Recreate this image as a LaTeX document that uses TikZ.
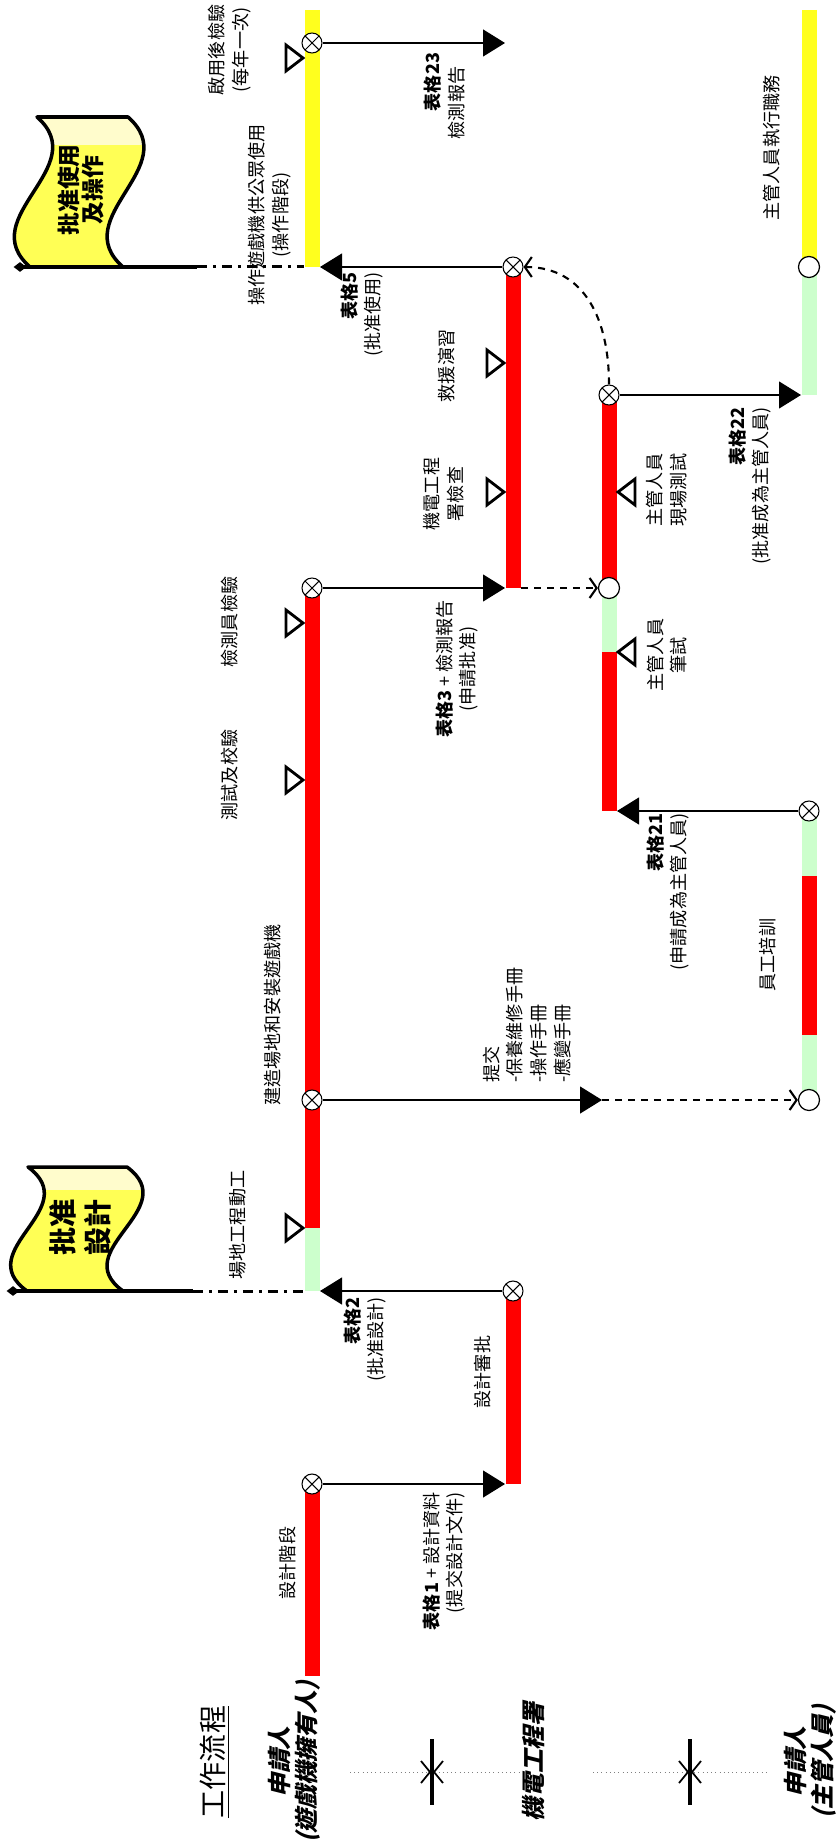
\documentclass[tikz,border=0pt]{standalone}
\usepackage{fontspec}
\setmainfont{Noto Sans CJK TC}
\newfontfamily\lanefont{Noto Sans CJK TC}[FakeSlant=0.25]
\usepackage{tikz}
\usetikzlibrary{arrows.meta}
\usetikzlibrary{shapes.geometric}

\definecolor{okgreen}{RGB}{204,255,204}
\definecolor{baryellow}{RGB}{255,255,30}
\definecolor{flagyellow}{RGB}{255,255,85}

\tikzset{
	bar/.style={line width=0.3cm, draw=#1},
	xcirc/.style={circle, draw, fill=white, minimum size=0.4cm, inner sep=0pt, line width=0.6pt,
		path picture={\draw[line width=0.6pt] (path picture bounding box.north west) -- (path picture bounding box.south east)
			(path picture bounding box.south west) -- (path picture bounding box.north east);}},
	ocirc/.style={circle, draw, fill=white, minimum size=0.42cm, inner sep=0pt, line width=0.7pt},
	msg/.style={line width=0.7pt, -{Triangle[length=0.44cm,width=0.54cm]}},
	follow/.style={line width=1.2pt, dash pattern=on 0.14cm off 0.12cm, -{Straight Barb[length=0.14cm,width=0.4cm]}},
	lbl/.style={rotate=90, inner sep=0pt, font=\fontsize{10.3}{13.6}\selectfont, align=center},
	lane/.style={rotate=90, inner sep=0pt, font=\lanefont\bfseries\fontsize{13.5}{15.4}\selectfont, align=center},
	flagedge/.style={line width=2pt, line join=round},
	poleline/.style={line width=0.08cm},
	dashdot/.style={line width=0.06cm, dash pattern=on 0.2cm off 0.12cm on 0.06cm off 0.12cm},
	pole/.style={diamond, fill=black, inner sep=0pt, minimum width=0.26cm, minimum height=0.2cm},
	milestone/.pic={\draw[line width=1.6pt, line join=miter, fill=white] (0,0) -- (-17,-13) -- (-17,13) -- cycle;},
}

\begin{document}
\begin{tikzpicture}[x=0.02cm, y=-0.02cm]
	\useasboundingbox (0,0) rectangle (836,1841);
%	header row
	\node[rotate=90, inner sep=0pt, font=\fontsize{16}{19}\selectfont] (title) at (215,1762) {\underline{工作流程}};
	\node[lane] (owner) at (294,1762) {申請人\\(遊戲機擁有人)};
	\node[lane] (emsd) at (534,1762) {機電工程署};
	\node[lane] (manager) at (810,1762) {申請人\\(主管人員)};
	\coordinate (h0) at (350,1772);
	\coordinate (h1) at (520,1772);
	\coordinate (h2) at (593,1772);
	\coordinate (h3) at (767,1772);
	\coordinate (sep1) at (432,1772);
	\coordinate (sep2) at (690,1772);
	\draw[dotted, gray] (h0) -- (h1);
	\draw[dotted, gray] (h2) -- (h3);
	\foreach \s in {sep1,sep2}{
		\draw[line width=1.9pt] ([shift={(0,-33)}]\s) -- ([shift={(0,33)}]\s);
		\draw[line width=1pt] ([shift={(-11,-11)}]\s) -- ([shift={(-2,0)}]\s) -- ([shift={(-11,11)}]\s);
		\draw[line width=1pt] ([shift={(11,-11)}]\s) -- ([shift={(2,0)}]\s) -- ([shift={(11,11)}]\s);
	}

%	activity bars
	\draw[bar=red] (312,1484) -- (312,1676);
	\draw[bar=okgreen] (312,1228) -- (312,1291);
	\draw[bar=red] (312,588) -- (312,1228);
	\draw[bar=baryellow] (312,10) -- (312,267);
	\draw[bar=red] (513,1291) -- (513,1484);
	\draw[bar=red] (513,267) -- (513,588);
	\draw[bar=red] (609,395) -- (609,588);
	\draw[bar=okgreen] (609,588) -- (609,652);
	\draw[bar=red] (609,652) -- (609,811);
	\draw[bar=okgreen] (809,811) -- (809,876);
	\draw[bar=red] (809,876) -- (809,1035);
	\draw[bar=okgreen] (809,1035) -- (809,1100);
	\draw[bar=baryellow] (809,10) -- (809,267);
	\draw[bar=okgreen] (809,267) -- (809,395);

%	flags
	\begin{scope}
		\clip (27,1291) -- (123,1291) .. controls (66,1250) and (184,1209) .. (127,1167) -- (28,1167) .. controls (85,1209) and (-30,1250) .. (27,1291) -- cycle;
		\fill[flagyellow] (0,1160) rectangle (160,1300);
		\fill[yellow!20] (0,1160) rectangle (160,1190);
	\end{scope}
	\draw[flagedge] (27,1291) -- (123,1291) .. controls (66,1250) and (184,1209) .. (127,1167) -- (28,1167) .. controls (85,1209) and (-30,1250) .. (27,1291) -- cycle;
	\node[rotate=90, align=center, inner sep=0pt, font=\bfseries\fontsize{16}{19.9}\selectfont] (design) at (80,1227) {批准\\設計};
	\begin{scope}
		\clip (30,267) -- (123,267) .. controls (66,217) and (185,167) .. (128,117) -- (37,117) .. controls (94,167) and (-27,217) .. (30,267) -- cycle;
		\fill[flagyellow] (0,110) rectangle (160,275);
		\fill[yellow!20] (0,110) rectangle (160,145);
	\end{scope}
	\draw[flagedge] (30,267) -- (123,267) .. controls (66,217) and (185,167) .. (128,117) -- (37,117) .. controls (94,167) and (-27,217) .. (30,267) -- cycle;
	\node[rotate=90, align=center, inner sep=0pt, font=\bfseries\fontsize{13}{14.2}\selectfont] (use) at (81,190) {批准使用\\及操作};
	\node[pole] (p1) at (13,1291) {};
	\node[pole] (p2) at (20,267) {};
	\coordinate (f1) at (193,1291);
	\coordinate (f2) at (197,267);
	\coordinate (g1) at (304,1291);
	\coordinate (g2) at (304,267);
	\draw[poleline] (p1.center) -- (f1);
	\draw[dashdot] (f1) -- (g1);
	\draw[poleline] (p2.center) -- (f2);
	\draw[dashdot] (f2) -- (g2);

%	events
	\node[xcirc] (a1) at (312,1484) {};
	\node[xcirc] (e1) at (513,1291) {};
	\node[xcirc] (a2) at (312,1100) {};
	\node[xcirc] (a3) at (312,588) {};
	\node[xcirc] (a4) at (312,43) {};
	\node[xcirc] (e2) at (513,267) {};
	\node[xcirc] (t2) at (609,395) {};
	\node[ocirc] (t1) at (609,588) {};
	\node[xcirc] (s1) at (809,811) {};
	\node[ocirc] (s2) at (809,1100) {};
	\node[ocirc] (s3) at (809,267) {};
	\coordinate (e1in) at (505,1484);
	\coordinate (a2in) at (320,1291);
	\coordinate (hand) at (602,1100);
	\coordinate (t3in) at (617,811);
	\coordinate (e3in) at (505,588);
	\coordinate (e3out) at (521,588);
	\coordinate (s3in) at (801,395);
	\coordinate (a5in) at (320,267);
	\coordinate (rep) at (505,43);

	\draw[msg] (a1) -- (e1in);
	\draw[msg] (e1) -- (a2in);
	\draw[msg] (a2) -- (hand);
	\draw[follow] (hand) -- (s2);
	\draw[msg] (s1) -- (t3in);
	\draw[msg] (a3) -- (e3in);
	\draw[follow] (e3out) -- (t1);
	\draw[msg] (t2) -- (s3in);
	\draw[follow] (t2) .. controls (609,320) and (585,267) .. (e2);
	\draw[msg] (e2) -- (a5in);
	\draw[msg] (a4) -- (rep);

%	milestones
	\pic at (303,1228) {milestone};
	\pic at (303,780) {milestone};
	\pic at (303,623) {milestone};
	\pic at (303,58) {milestone};
	\pic at (504,363) {milestone};
	\pic at (504,492) {milestone};
	\pic[xscale=-1] at (618,492) {milestone};
	\pic[xscale=-1] at (618,652) {milestone};

%	labels
	\node[lbl] (l1) at (288,1563) {設計階段};
	\node[lbl, align=right, anchor=east] (l2) at (444,1492) {\textbf{表格1} + 設計資料\\(提交設計文件)};
	\node[lbl] (l3) at (483,1372) {設計審批};
	\node[lbl, align=right, anchor=east] (l4) at (365,1297) {\textbf{表格2}\\(批准設計)};
	\node[lbl] (l5) at (238,1225) {場地工程動工};
	\node[lbl] (l6) at (273,1015) {建造場地和安裝遊戲機};
	\node[lbl, align=left, anchor=west] (l7) at (527,1083) {提交\\-保養維修手冊\\-操作手冊\\-應變手冊};
	\node[lbl, align=right, anchor=east] (l8) at (668,813) {\textbf{表格21}\\(申請成為主管人員)};
	\node[lbl] (l9) at (768,955) {員工培訓};
	\node[lbl] (l10) at (230,775) {測試及校驗};
	\node[lbl] (l11) at (230,622) {檢測員檢驗};
	\node[lbl] (l12) at (457,669) {\textbf{表格3} + 檢測報告\\(申請批准)};
	\node[lbl] (l13) at (667,655) {主管人員\\筆試};
	\node[lbl] (l14) at (667,490) {主管人員\\現場測試};
	\node[lbl] (l15) at (444,494) {機電工程\\署檢查};
	\node[lbl] (l16) at (447,366) {救援演習};
	\node[lbl, align=right, anchor=east] (l17) at (750,407) {\textbf{表格22}\\(批准成為主管人員)};
	\node[lbl, align=right, anchor=east] (l18) at (362,272) {\textbf{表格5}\\(批准使用)};
	\node[lbl] (l19) at (270,215) {操作遊戲機供公眾使用\\(操作階段)};
	\node[lbl] (l20) at (230,50) {啟用後檢驗\\(每年一次)};
	\node[lbl] (l21) at (433,82) {\textbf{表格23}};
	\node[lbl] (l22) at (457,103) {檢測報告};
	\node[lbl] (l23) at (772,148) {主管人員執行職務};
\end{tikzpicture}
\end{document}
